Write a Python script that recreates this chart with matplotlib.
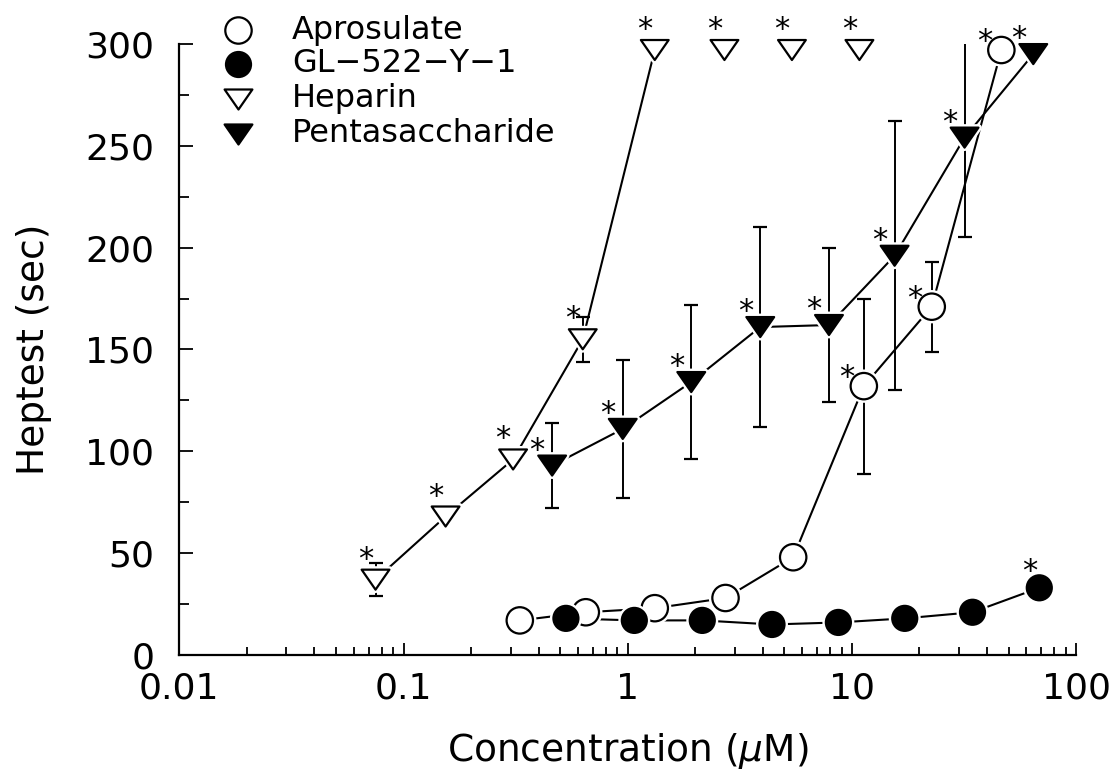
import matplotlib
matplotlib.use('Agg')
import matplotlib.pyplot as plt
import matplotlib.patheffects as pe
from matplotlib.path import Path
from matplotlib.ticker import LogLocator, NullFormatter, FixedLocator
import numpy as np

nan = np.nan

# Aprosulate (open circles)
apro_x = [0.33, 0.65, 1.32, 2.73, 5.47, 11.3, 22.7, 46.4]
apro_y = [17, 21, 23, 28, 48, 132, 171, 297]
apro_err = [nan, nan, nan, nan, nan, 43, 22, nan]
apro_sig = [False, False, False, False, False, True, True, True]

# GL-522-Y-1 (filled circles)
gl_x = [0.53, 1.07, 2.15, 4.4, 8.7, 17.2, 34.5, 68.5]
gl_y = [18, 17, 17, 15, 16, 18, 21, 33]
gl_err = [nan] * 8
gl_sig = [False, False, False, False, False, False, False, True]

# Heparin (open triangles); values at 297 are off-scale
hep_x = [0.075, 0.154, 0.308, 0.63, 1.32, 2.7, 5.4, 10.8]
hep_y = [37, 68, 96, 155, 297, 297, 297, 297]
hep_err = [8, nan, nan, 11, nan, nan, nan, nan]
hep_sig = [True] * 8
hep_connected = 5

# Pentasaccharide (filled triangles)
penta_x = [0.46, 0.95, 1.92, 3.9, 7.9, 15.5, 31.8, 64.4]
penta_y = [93, 111, 134, 161, 162, 196, 254, 295]
penta_err = [21, 34, 38, 49, 38, 66, 49, nan]
penta_sig = [True] * 8

legend_labels = ['Aprosulate', 'GL\u2212522\u2212Y\u22121', 'Heparin', 'Pentasaccharide']
tick_vals = [0.01, 0.1, 1, 10, 100]
tick_labels = ['0.01', '0.1', '1', '10', '100']

plt.rcParams['font.family'] = ['DejaVu Sans']

W, H = 1114, 784
fig = plt.figure(figsize=(W / 100, H / 100), dpi=100)
ax = fig.add_axes([0.161, 0.1645, 0.805, 0.7795])

# wide, flat down-pointing triangle
tri = Path([(-1, 0.72), (1, 0.72), (0, -0.72), (-1, 0.72)],
           [Path.MOVETO, Path.LINETO, Path.LINETO, Path.CLOSEPOLY])

halo = [pe.Stroke(linewidth=5, foreground='white'), pe.Normal()]


def series(x, y, err, sig, marker, face, ms, n_line, star_off):
    x = np.asarray(x); y = np.asarray(y); err = np.asarray(err, float)
    ax.errorbar(x, y, yerr=err, fmt='none', ecolor='black', elinewidth=1.4,
                capsize=5, capthick=1.6, zorder=2)
    ax.plot(x[:n_line], y[:n_line], color='black', lw=1.5, zorder=2)
    ax.plot(x, y, ls='none', marker=marker, ms=ms, mfc=face, mec='black',
            mew=1.6, zorder=3, clip_on=False, path_effects=halo)
    for xi, yi, s in zip(x, y, sig):
        if s:
            ax.annotate('*', (xi, yi), xytext=star_off, textcoords='offset pixels',
                        ha='center', va='baseline', fontsize=22,
                        annotation_clip=False, zorder=4)


series(apro_x, apro_y, apro_err, apro_sig, 'o', 'white', 19, 8, (-17, 0))
series(gl_x, gl_y, gl_err, gl_sig, 'o', 'black', 18, 8, (-10, 8))
series(hep_x, hep_y, hep_err, hep_sig, tri, 'white', 20, hep_connected, (-10, 12))
series(penta_x, penta_y, penta_err, penta_sig, tri, 'black', 20, 8, (-15, 7))

ax.set_xscale('log')
ax.set_xlim(0.01, 100)
ax.set_ylim(0, 300)
ax.xaxis.set_major_locator(FixedLocator(tick_vals))
ax.xaxis.set_minor_locator(LogLocator(base=10, subs=np.arange(2, 10)))
ax.xaxis.set_minor_formatter(NullFormatter())
ax.set_xticklabels(tick_labels)
ax.set_yticks(np.arange(0, 301, 50))
ax.set_yticks(np.arange(25, 300, 50), minor=True)

for side in ('top', 'right'):
    ax.spines[side].set_visible(False)
for side in ('left', 'bottom'):
    ax.spines[side].set_linewidth(1.6)

ax.tick_params(which='both', direction='in', width=1.3, labelsize=26)
ax.tick_params(axis='y', which='major', length=10, pad=18)
ax.tick_params(axis='y', which='minor', length=7)
ax.tick_params(axis='x', which='major', length=9, pad=12)
ax.tick_params(axis='x', which='minor', length=6)

ax.set_ylabel('Heptest (sec)', fontsize=27)
ax.yaxis.set_label_coords(-0.142, 0.5)
ax.set_xlabel('Concentration ($\\mu$M)', fontsize=27, labelpad=18)

# key in the upper left, drawn in figure pixels
legend_style = [('o', 'white', 19), ('o', 'black', 18), (tri, 'white', 20), (tri, 'black', 20)]
row_y = [30, 64, 99, 134]
for (mk, face, ms), label, yy in zip(legend_style, legend_labels, row_y):
    fig.lines.append(plt.Line2D([238 / W], [1 - yy / H], transform=fig.transFigure,
                                ls='none', marker=mk, ms=ms, mfc=face, mec='black', mew=1.6))
    fig.text(292 / W, 1 - yy / H, label, fontsize=23, ha='left', va='center')

fig.savefig('out.png', dpi=100, facecolor='white')
